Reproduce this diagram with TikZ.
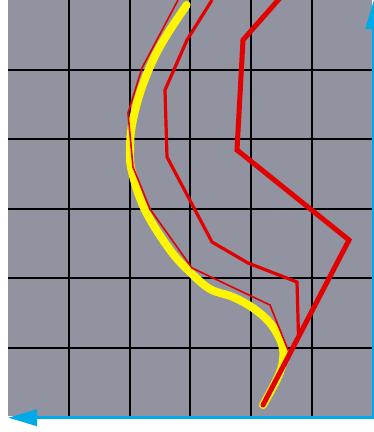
\documentclass[tikz,border=0pt]{standalone}
\usetikzlibrary{arrows.meta}
\definecolor{bggray}{RGB}{145,147,160}
\definecolor{pathred}{RGB}{226,0,0}
\definecolor{pathyellow}{RGB}{255,245,0}
\definecolor{axisblue}{RGB}{0,170,232}
\tikzset{
  gridline/.style={black, line width=2pt},
  yellowpath/.style={pathyellow, line width=8pt, line cap=round, line join=round},
  thickred/.style={pathred, line width=5pt, line cap=round, line join=miter},
  midred/.style={pathred, line width=3.2pt, line join=miter},
  thinred/.style={pathred, line width=1.6pt, line join=miter},
  axis/.style={axisblue, line width=3.5pt, -{Triangle[length=29pt, width=16pt]}}
}
\begin{document}
\begin{tikzpicture}[x=1pt, y=-1pt]
\useasboundingbox (0,0) rectangle (374,432);
% background
\fill[bggray] (8,0) rectangle (372,416);
% grid
\foreach \gx in {68.8,129.6,190.4,251.2,312} {
  \draw[gridline] (\gx,0) -- (\gx,416);
}
\foreach \gy in {69.5,139,208.5,278,347.5} {
  \draw[gridline] (8,\gy) -- (372,\gy);
}
% yellow smooth path
\draw[yellowpath] plot[smooth, tension=0.6] coordinates {
  (186.7,5) (168,33) (153,60) (140,93) (132,125) (130,150) (132,172)
  (145,210) (170,250) (190,272) (210,289) (233,297) (253,308) (270,323)
  (281.5,343) (283,360) (278,377) (263,405)};
% thin red
\draw[thinred] (178,0) -- (142,68) -- (128,113) -- (133,167) -- (150,209)
  -- (192,268) -- (270,305) -- (288,350);
% medium red
\draw[midred] (212,0) -- (187,40) -- (165,90) -- (167,157) -- (212,242)
  -- (248,263) -- (297,282) -- (298.5,336);
% thick red
\draw[thickred] (280,-2) -- (243,40) -- (237,150) -- (349,240) -- (263,405);
% axes
\coordinate (corner) at (373.8,417.7);
\coordinate (leftend) at (8,417.7);
\coordinate (topend) at (373.8,0);
\draw[axis] (corner) -- (leftend);
\draw[axis] ([yshift=1.75pt]corner) -- (topend);
\end{tikzpicture}
\end{document}
